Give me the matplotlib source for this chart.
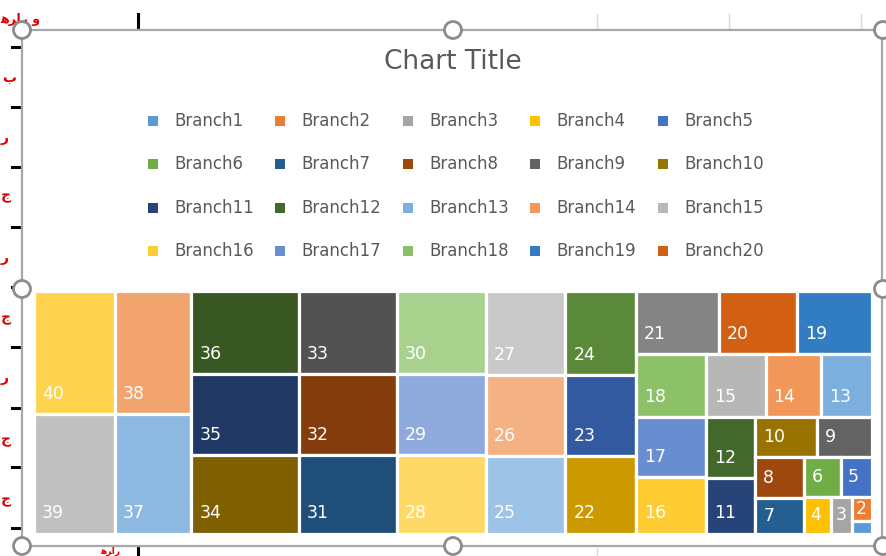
import matplotlib
matplotlib.use("Agg")
import matplotlib.pyplot as plt
from matplotlib.patches import Rectangle, Circle

# ---- data -------------------------------------------------------------
branches = [f"Branch{i}" for i in range(1, 41)]
values = list(range(1, 41))
colors = [
    "#5B9BD5", "#ED7D31", "#A5A5A5", "#FFC000", "#4472C4", "#70AD47",
    "#255E91", "#9E480E", "#636363", "#997300", "#264478", "#43682B",
    "#7CAFDD", "#F1975A", "#B7B7B7", "#FFCD33", "#698ED0", "#8CC168",
    "#327DC2", "#D26012", "#848484", "#CC9A00", "#335AA1", "#5A8A39",
    "#9DC3E6", "#F4B183", "#C9C9C9", "#FFD966", "#8FAADC", "#A9D18E",
    "#1F4E79", "#843C0C", "#525252", "#7F6000", "#203864", "#385723",
    "#8DB8E1", "#F2A46F", "#C0C0C0", "#FFD34D",
]
legend_shown = 20
title = "Chart Title"

TEXT_GREY = "#595959"


def squarify(items, x0, y0, x1, y1, ratio):
    """Squarified treemap layout; y grows downward. items: (key, value) sorted desc."""
    rects = []
    total = float(sum(v for _, v in items))
    n = len(items)
    i0 = 0
    while i0 < n:
        dx, dy = x1 - x0, y1 - y0
        i1 = i0
        s = items[i1][1]
        i1 += 1
        vmin = vmax = s
        alpha = max(dy / dx, dx / dy) / (total * ratio)
        beta = s * s * alpha
        best = max(vmax / beta, beta / vmin)
        while i1 < n:
            v = items[i1][1]
            s2 = s + v
            beta = s2 * s2 * alpha
            cand = max(max(vmax, v) / beta, beta / min(vmin, v))
            if cand > best:
                break
            s = s2
            vmin, vmax = min(vmin, v), max(vmax, v)
            best = cand
            i1 += 1
        row = items[i0:i1]
        if dx < dy:
            h = dy * s / total
            x = x0
            for key, v in row:
                w = dx * v / s
                rects.append((key, x, y0, w, h))
                x += w
            y0 += h
        else:
            w = dx * s / total
            y = y0
            for key, v in row:
                hh = dy * v / s
                rects.append((key, x0, y, w, hh))
                y += hh
            x0 += w
        total -= s
        i0 = i1
    return rects


W_PX, H_PX = 887, 556
fig = plt.figure(figsize=(W_PX / 100, H_PX / 100), dpi=100)
fig.patch.set_facecolor("white")

# background layer in pixel coordinates (origin top-left)
bg = fig.add_axes([0, 0, 1, 1])
bg.set_xlim(0, W_PX)
bg.set_ylim(H_PX, 0)
bg.axis("off")

# worksheet behind the chart: gridline stubs and row markers
for gx in (597, 729, 861):
    bg.plot([gx, gx], [14, 28], color="#D9D9D9", lw=1.0)
bg.plot([597, 597], [548, 556], color="#D9D9D9", lw=1.0)
bg.plot([138, 138], [14, 28], color="black", lw=2.2)
bg.plot([138, 138], [548, 556], color="black", lw=2.2)
for ty in (47, 107, 167, 227, 287, 347, 408, 467, 528):
    bg.plot([12, 20], [ty, ty], color="black", lw=2.2)
red_bits = [(2, 78, "ب"), (1, 138, "ﺭ"), (1, 196, "ﺝ"), (1, 258, "ﺭ"),
            (1, 318, "ﺝ"), (1, 378, "ﺭ"), (1, 440, "ﺝ"), (1, 500, "ﺝ")]
for rx, ry, ch in red_bits:
    t = bg.text(rx, ry, ch, color="#E00000", fontsize=10, fontweight="bold",
                ha="left", va="center", family="DejaVu Sans")
    t.set_clip_path(Rectangle((0, 0), 13, H_PX, transform=bg.transData))
bg.text(0, 19, "ﻫﺮﺍﺭ ﻭ", color="#E00000", fontsize=9, fontweight="bold",
        ha="left", va="center", family="DejaVu Sans")
bg.text(100, 551, "ﻫﺮﺍﺭ", color="#E00000", fontsize=6.5, fontweight="bold",
        ha="left", va="center", family="DejaVu Sans")

# chart frame with selection handles
L, T, R, B = 22, 30, 882, 546
bg.add_patch(Rectangle((L, T), R - L, B - T, facecolor="white",
                       edgecolor="#A6A6A6", lw=1.6, zorder=2))
for hx, hy in [(L, T), ((L + R) / 2 + 1, T), (R + 1, T), (L, 289), (R + 1, 289),
               (L, B), ((L + R) / 2 + 1, B), (R + 1, B)]:
    bg.add_patch(Circle((hx, hy), 8.5, facecolor="white", edgecolor="#8C8C8C",
                        lw=2.0, zorder=6))

# title
bg.text(453, 62, title, color=TEXT_GREY, fontsize=19, ha="center", va="center",
        family="DejaVu Sans", zorder=3)

# legend (first 20 branches, row-major, 5 per row)
for i in range(legend_shown):
    r, c = divmod(i, 5)
    lx = 148 + c * 127.5
    ly = 121 + r * 43.3
    bg.add_patch(Rectangle((lx, ly - 5), 10, 10, facecolor=colors[i],
                           edgecolor="none", zorder=3))
    bg.text(lx + 26, ly, branches[i], color=TEXT_GREY, fontsize=12,
            ha="left", va="center", family="DejaVu Sans", zorder=3)

# treemap region
TX0, TY0, TX1, TY1 = 34.0, 290.5, 872.0, 533.5
tw, th = TX1 - TX0, TY1 - TY0
tm = fig.add_axes([TX0 / W_PX, 1 - TY1 / H_PX, tw / W_PX, th / H_PX])
tm.set_xlim(0, tw)
tm.set_ylim(th, 0)
tm.axis("off")
tm.set_zorder(5)

items = sorted(zip(range(len(values)), values), key=lambda kv: -kv[1])
for idx, x, y, w, h in squarify(items, 0, 0, tw, th, ratio=0.92):
    rect = Rectangle((x, y), w, h, facecolor=colors[idx], edgecolor="white",
                     lw=2.3, joinstyle="miter")
    tm.add_patch(rect)
    if h < 14:
        continue
    px = x + min(8.0, w * 0.22)
    py = y + h - min(20.0, h / 2)
    txt = tm.text(px, py, str(values[idx]), color="white", fontsize=12.5,
                  ha="left", va="center", family="DejaVu Sans")
    txt.set_clip_path(rect)

fig.savefig("out.png", dpi=100, facecolor="white")
